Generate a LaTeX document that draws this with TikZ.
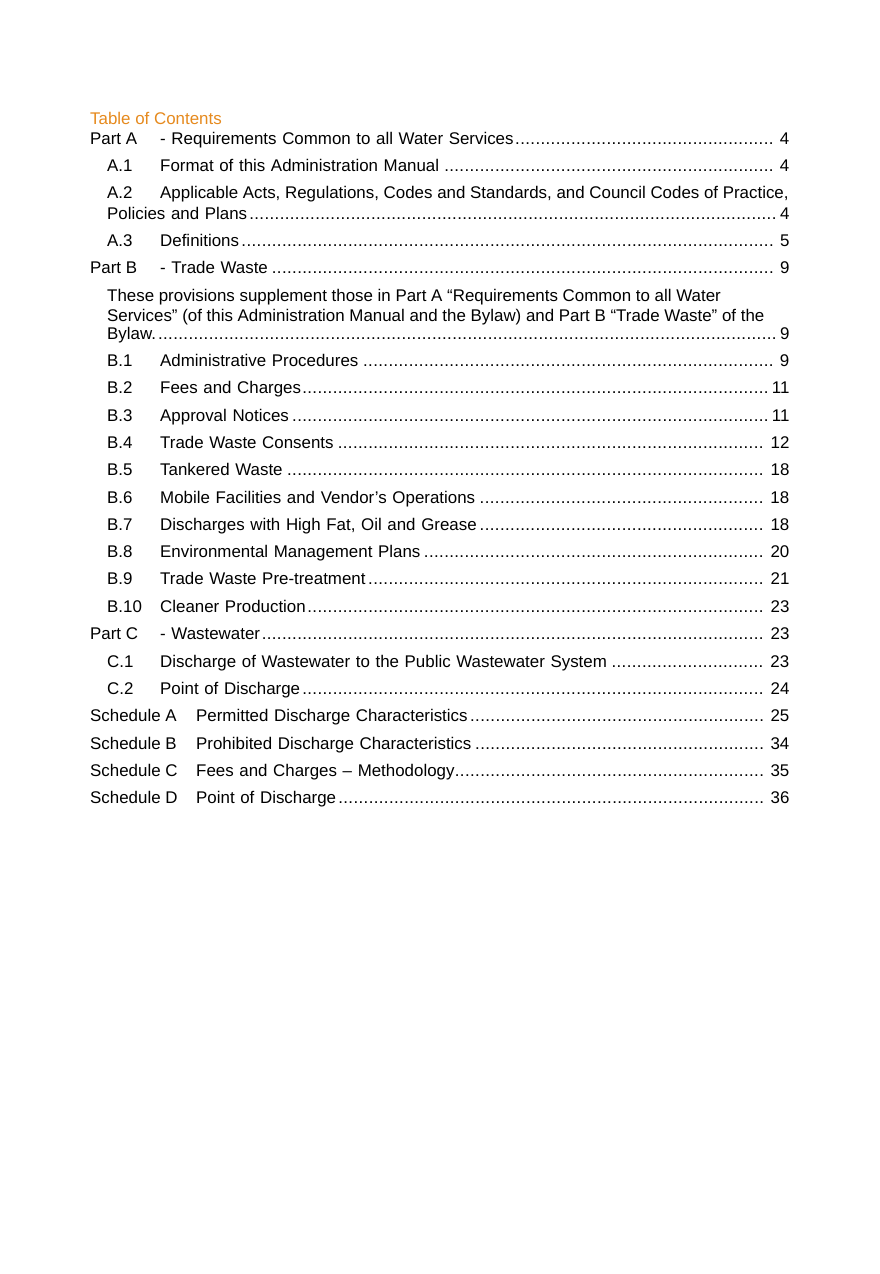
\documentclass[tikz,border=0pt]{standalone}
\usepackage{fontspec}
\setmainfont{Liberation Sans}
\definecolor{tocorange}{RGB}{230,138,30}
\newcommand{\tocrow}[7]{%
  \node[entry] (#1l) at (#3pt,-#2pt) {#4};
  \node[entry, text width={789pt-#5pt}] (#1t) at (#5pt,-#2pt) {#6\leaders\hbox to .3em{\hss.\hss}\hfill\,#7};
}
\tikzset{entry/.style={anchor=base west, inner sep=0pt, align=left, font=\fontsize{16.9}{19}\selectfont}}
\begin{document}
\begin{tikzpicture}[x=1pt,y=1pt]
	\useasboundingbox (0,0) rectangle (879,-1274);
	\fill[white] (0,0) rectangle (879,-1274);

	%Heading
	\node[entry, text=tocorange] (head) at (90,-124) {Table of Contents};

	%Part A
	\tocrow{pa}{144}{90}{Part A}{160}{- Requirements Common to all Water Services}{4}
	\tocrow{aa}{171}{107}{A.1}{160}{Format of this Administration Manual}{4}
	\node[entry] (abl) at (107,-198) {A.2};
	\node[entry] (abt) at (160,-198) {Applicable Acts, Regulations, Codes and Standards, and Council Codes of Practice,};
	\tocrow{ab2}{219}{107}{}{107}{Policies and Plans}{4}
	\tocrow{ac}{246}{107}{A.3}{160}{Definitions}{5}

	%Part B
	\tocrow{pb}{273}{90}{Part B}{160}{- Trade Waste}{9}
	\node[entry] (pv1) at (107,-301) {These provisions supplement those in Part A “Requirements Common to all Water};
	\node[entry] (pv2) at (107,-321) {Services” (of this Administration Manual and the Bylaw) and Part B “Trade Waste” of the};
	\tocrow{pv3}{339}{107}{}{107}{Bylaw.}{9}
	\tocrow{ba}{366}{107}{B.1}{160}{Administrative Procedures}{9}
	\tocrow{bb}{393}{107}{B.2}{160}{Fees and Charges}{11}
	\tocrow{bc}{421}{107}{B.3}{160}{Approval Notices}{11}
	\tocrow{bd}{448}{107}{B.4}{160}{Trade Waste Consents}{12}
	\tocrow{be}{475}{107}{B.5}{160}{Tankered Waste}{18}
	\tocrow{bf}{503}{107}{B.6}{160}{Mobile Facilities and Vendor’s Operations}{18}
	\tocrow{bg}{530}{107}{B.7}{160}{Discharges with High Fat, Oil and Grease}{18}
	\tocrow{bh}{557}{107}{B.8}{160}{Environmental Management Plans}{20}
	\tocrow{bi}{584}{107}{B.9}{160}{Trade Waste Pre-treatment}{21}
	\tocrow{bj}{612}{107}{B.10}{160}{Cleaner Production}{23}

	%Part C
	\tocrow{pc}{639}{90}{Part C}{160}{- Wastewater}{23}
	\tocrow{ca}{667}{107}{C.1}{160}{Discharge of Wastewater to the Public Wastewater System}{23}
	\tocrow{cb}{694}{107}{C.2}{160}{Point of Discharge}{24}

	%Schedules
	\tocrow{sa}{721}{90}{Schedule A}{196}{Permitted Discharge Characteristics}{25}
	\tocrow{sb}{749}{90}{Schedule B}{196}{Prohibited Discharge Characteristics}{34}
	\tocrow{sc}{776}{90}{Schedule C}{196}{Fees and Charges – Methodology}{35}
	\tocrow{sd}{803}{90}{Schedule D}{196}{Point of Discharge}{36}
\end{tikzpicture}
\end{document}
